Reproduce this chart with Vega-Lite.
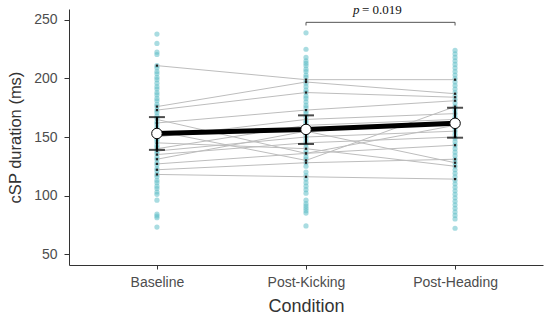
{
  "$schema": "https://vega.github.io/schema/vega-lite/v6.json",
  "width": 474,
  "height": 256,
  "autosize": {"type": "none"},
  "padding": {"left": 69, "top": 9, "right": 7, "bottom": 57},
  "background": "white",
  "config": {
    "view": {"stroke": null},
    "axis": {"grid": false, "domainColor": "#333333", "tickColor": "#333333", "labelColor": "#4d4d4d", "titleColor": "#333333", "labelFont": "Liberation Sans", "titleFont": "Liberation Sans", "titleFontWeight": "normal", "labelFontSize": 14, "titleFontSize": 16.5}
  },
  "datasets": {
    "trials": [
      {"c":"Baseline","v":238},{"c":"Baseline","v":230},{"c":"Baseline","v":222.5},{"c":"Baseline","v":220.5},{"c":"Baseline","v":211},{"c":"Baseline","v":209},{"c":"Baseline","v":206},{"c":"Baseline","v":204},{"c":"Baseline","v":201},{"c":"Baseline","v":199},{"c":"Baseline","v":196},{"c":"Baseline","v":193},{"c":"Baseline","v":191},{"c":"Baseline","v":188},{"c":"Baseline","v":186},{"c":"Baseline","v":183},{"c":"Baseline","v":181},{"c":"Baseline","v":178},{"c":"Baseline","v":176},{"c":"Baseline","v":173},{"c":"Baseline","v":171},{"c":"Baseline","v":168},{"c":"Baseline","v":166},{"c":"Baseline","v":163},{"c":"Baseline","v":161},{"c":"Baseline","v":158},{"c":"Baseline","v":156},{"c":"Baseline","v":153},{"c":"Baseline","v":151},{"c":"Baseline","v":148},{"c":"Baseline","v":146},{"c":"Baseline","v":143},{"c":"Baseline","v":141},{"c":"Baseline","v":138},{"c":"Baseline","v":136},{"c":"Baseline","v":133},{"c":"Baseline","v":131},{"c":"Baseline","v":128},{"c":"Baseline","v":126},{"c":"Baseline","v":123},{"c":"Baseline","v":121},{"c":"Baseline","v":118},{"c":"Baseline","v":116},{"c":"Baseline","v":113},{"c":"Baseline","v":111},{"c":"Baseline","v":108},{"c":"Baseline","v":106},{"c":"Baseline","v":103},{"c":"Baseline","v":101},{"c":"Baseline","v":96},{"c":"Baseline","v":84},{"c":"Baseline","v":82.5},{"c":"Baseline","v":81},{"c":"Baseline","v":73},
      {"c":"Post-Kicking","v":239},{"c":"Post-Kicking","v":225},{"c":"Post-Kicking","v":218},{"c":"Post-Kicking","v":215},{"c":"Post-Kicking","v":213},{"c":"Post-Kicking","v":211},{"c":"Post-Kicking","v":208},{"c":"Post-Kicking","v":206},{"c":"Post-Kicking","v":203},{"c":"Post-Kicking","v":201},{"c":"Post-Kicking","v":198},{"c":"Post-Kicking","v":196},{"c":"Post-Kicking","v":193},{"c":"Post-Kicking","v":190},{"c":"Post-Kicking","v":188},{"c":"Post-Kicking","v":185},{"c":"Post-Kicking","v":183},{"c":"Post-Kicking","v":180},{"c":"Post-Kicking","v":177},{"c":"Post-Kicking","v":175},{"c":"Post-Kicking","v":172},{"c":"Post-Kicking","v":170},{"c":"Post-Kicking","v":167},{"c":"Post-Kicking","v":164},{"c":"Post-Kicking","v":162},{"c":"Post-Kicking","v":159},{"c":"Post-Kicking","v":157},{"c":"Post-Kicking","v":154},{"c":"Post-Kicking","v":151},{"c":"Post-Kicking","v":149},{"c":"Post-Kicking","v":146},{"c":"Post-Kicking","v":144},{"c":"Post-Kicking","v":141},{"c":"Post-Kicking","v":138},{"c":"Post-Kicking","v":136},{"c":"Post-Kicking","v":133},{"c":"Post-Kicking","v":131},{"c":"Post-Kicking","v":128},{"c":"Post-Kicking","v":125},{"c":"Post-Kicking","v":120},{"c":"Post-Kicking","v":117},{"c":"Post-Kicking","v":114},{"c":"Post-Kicking","v":111},{"c":"Post-Kicking","v":108},{"c":"Post-Kicking","v":105},{"c":"Post-Kicking","v":102},{"c":"Post-Kicking","v":96},{"c":"Post-Kicking","v":93},{"c":"Post-Kicking","v":91},{"c":"Post-Kicking","v":89},{"c":"Post-Kicking","v":87},{"c":"Post-Kicking","v":85},{"c":"Post-Kicking","v":74},
      {"c":"Post-Heading","v":224},{"c":"Post-Heading","v":221},{"c":"Post-Heading","v":218},{"c":"Post-Heading","v":215},{"c":"Post-Heading","v":212},{"c":"Post-Heading","v":209},{"c":"Post-Heading","v":206},{"c":"Post-Heading","v":203},{"c":"Post-Heading","v":200},{"c":"Post-Heading","v":197},{"c":"Post-Heading","v":194},{"c":"Post-Heading","v":191},{"c":"Post-Heading","v":188},{"c":"Post-Heading","v":185},{"c":"Post-Heading","v":182},{"c":"Post-Heading","v":179},{"c":"Post-Heading","v":176},{"c":"Post-Heading","v":173},{"c":"Post-Heading","v":170},{"c":"Post-Heading","v":167},{"c":"Post-Heading","v":164},{"c":"Post-Heading","v":161},{"c":"Post-Heading","v":158},{"c":"Post-Heading","v":155},{"c":"Post-Heading","v":152},{"c":"Post-Heading","v":149},{"c":"Post-Heading","v":146},{"c":"Post-Heading","v":143},{"c":"Post-Heading","v":140},{"c":"Post-Heading","v":137},{"c":"Post-Heading","v":134},{"c":"Post-Heading","v":131},{"c":"Post-Heading","v":128},{"c":"Post-Heading","v":125},{"c":"Post-Heading","v":122},{"c":"Post-Heading","v":119},{"c":"Post-Heading","v":116},{"c":"Post-Heading","v":113},{"c":"Post-Heading","v":110},{"c":"Post-Heading","v":107},{"c":"Post-Heading","v":104},{"c":"Post-Heading","v":101},{"c":"Post-Heading","v":98},{"c":"Post-Heading","v":95},{"c":"Post-Heading","v":92},{"c":"Post-Heading","v":89},{"c":"Post-Heading","v":86},{"c":"Post-Heading","v":83},{"c":"Post-Heading","v":80},{"c":"Post-Heading","v":72}
    ],
    "subjects": [
      {"id":1,"c":"Baseline","v":211},{"id":1,"c":"Post-Kicking","v":199},{"id":1,"c":"Post-Heading","v":199},
      {"id":2,"c":"Baseline","v":176},{"id":2,"c":"Post-Kicking","v":197},{"id":2,"c":"Post-Heading","v":187},
      {"id":3,"c":"Baseline","v":173},{"id":3,"c":"Post-Kicking","v":188},{"id":3,"c":"Post-Heading","v":184},
      {"id":4,"c":"Baseline","v":162},{"id":4,"c":"Post-Kicking","v":173},{"id":4,"c":"Post-Heading","v":181},
      {"id":5,"c":"Baseline","v":155},{"id":5,"c":"Post-Kicking","v":130},{"id":5,"c":"Post-Heading","v":176},
      {"id":6,"c":"Baseline","v":150},{"id":6,"c":"Post-Kicking","v":165},{"id":6,"c":"Post-Heading","v":170},
      {"id":7,"c":"Baseline","v":140},{"id":7,"c":"Post-Kicking","v":160},{"id":7,"c":"Post-Heading","v":165},
      {"id":8,"c":"Baseline","v":138},{"id":8,"c":"Post-Kicking","v":150},{"id":8,"c":"Post-Heading","v":155},
      {"id":9,"c":"Baseline","v":135},{"id":9,"c":"Post-Kicking","v":145},{"id":9,"c":"Post-Heading","v":150},
      {"id":10,"c":"Baseline","v":127},{"id":10,"c":"Post-Kicking","v":136},{"id":10,"c":"Post-Heading","v":143},
      {"id":11,"c":"Baseline","v":122},{"id":11,"c":"Post-Kicking","v":128},{"id":11,"c":"Post-Heading","v":131},
      {"id":12,"c":"Baseline","v":118},{"id":12,"c":"Post-Kicking","v":116},{"id":12,"c":"Post-Heading","v":114},
      {"id":13,"c":"Baseline","v":145},{"id":13,"c":"Post-Kicking","v":140},{"id":13,"c":"Post-Heading","v":125},
      {"id":14,"c":"Baseline","v":131},{"id":14,"c":"Post-Kicking","v":155},{"id":14,"c":"Post-Heading","v":128},
      {"id":15,"c":"Baseline","v":165},{"id":15,"c":"Post-Kicking","v":136},{"id":15,"c":"Post-Heading","v":160}
    ],
    "summary": [
      {"c":"Baseline","mean":153,"lo":139,"hi":167},
      {"c":"Post-Kicking","mean":156.5,"lo":144,"hi":168.5},
      {"c":"Post-Heading","mean":161.7,"lo":149.4,"hi":175}
    ],
    "bracket": [{"c":"Post-Kicking","c2":"Post-Heading","y":248}],
    "bracketEnds": [{"c":"Post-Kicking","y":248,"y2":245.3},{"c":"Post-Heading","y":248,"y2":245.3}],
    "label": [{"c":"Post-Kicking","y":255,"t1":"p","t2":"= 0.019"}]
  },
  "encoding": {
    "x": {"field":"c","type":"nominal","sort":["Baseline","Post-Kicking","Post-Heading"],"scale":{"type":"point","padding":0.59},
      "axis":{"title":"Condition","labelAngle":0,"tickSize":4,"labelPadding":6,"titlePadding":8,"titleFontSize":18}}
  },
  "layer": [
    {
      "data": {"name":"trials"},
      "mark": {"type":"circle","size":27,"color":"#62c0c8","opacity":0.55},
      "encoding": {
        "y": {"field":"v","type":"quantitative","scale":{"domain":[40.6,259.4],"nice":false,"zero":false},
          "axis":{"title":"cSP duration (ms)","values":[50,100,150,200,250],"tickSize":5,"labelPadding":7,"titlePadding":10}}
      }
    },
    {
      "data": {"name":"subjects"},
      "mark": {"type":"line","color":"#bdbdbd","strokeWidth":1},
      "encoding": {"y":{"field":"v","type":"quantitative"},"detail":{"field":"id","type":"nominal"},"order":{"value":null}}
    },
    {
      "data": {"name":"subjects"},
      "mark": {"type":"square","size":5,"color":"#222222","opacity":1},
      "encoding": {"y":{"field":"v","type":"quantitative"}}
    },
    {
      "data": {"name":"summary"},
      "mark": {"type":"line","color":"black","strokeWidth":5},
      "encoding": {"y":{"field":"mean","type":"quantitative"},"order":{"value":null}}
    },
    {
      "data": {"name":"summary"},
      "mark": {"type":"rule","color":"black","strokeWidth":2},
      "encoding": {"y":{"field":"lo","type":"quantitative"},"y2":{"field":"hi"}}
    },
    {
      "data": {"name":"summary"},
      "mark": {"type":"tick","color":"black","size":16,"thickness":2,"orient":"horizontal"},
      "encoding": {"y":{"field":"lo","type":"quantitative"}}
    },
    {
      "data": {"name":"summary"},
      "mark": {"type":"tick","color":"black","size":16,"thickness":2,"orient":"horizontal"},
      "encoding": {"y":{"field":"hi","type":"quantitative"}}
    },
    {
      "data": {"name":"summary"},
      "mark": {"type":"point","shape":"circle","filled":true,"fill":"white","stroke":"black","strokeWidth":1,"size":110,"opacity":1},
      "encoding": {"y":{"field":"mean","type":"quantitative"}}
    },
    {
      "data": {"name":"bracket"},
      "mark": {"type":"rule","color":"#555555","strokeWidth":1},
      "encoding": {"y":{"field":"y","type":"quantitative"},"x2":{"field":"c2"}}
    },
    {
      "data": {"name":"bracketEnds"},
      "mark": {"type":"rule","color":"#555555","strokeWidth":1},
      "encoding": {"y":{"field":"y","type":"quantitative"},"y2":{"field":"y2"}}
    },
    {
      "data": {"name":"label"},
      "mark": {"type":"text","font":"Liberation Serif","fontSize":13,"fontStyle":"italic","align":"left","baseline":"alphabetic","dx":47,"color":"#111111"},
      "encoding": {"y":{"field":"y","type":"quantitative"},"text":{"field":"t1"}}
    },
    {
      "data": {"name":"label"},
      "mark": {"type":"text","font":"Liberation Serif","fontSize":13,"align":"left","baseline":"alphabetic","dx":56,"color":"#111111"},
      "encoding": {"y":{"field":"y","type":"quantitative"},"text":{"field":"t2"}}
    }
  ]
}
